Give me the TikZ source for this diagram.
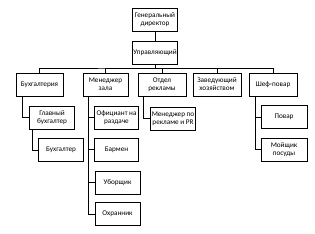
\documentclass[tikz,border=0pt]{standalone}
\usepackage{fontspec}
\setmainfont{Carlito}
\usetikzlibrary{positioning}

\begin{document}
\begin{tikzpicture}[
  x=1pt, y=-1pt,
  box/.style={draw, line width=1pt, minimum width=45pt, minimum height=23pt,
    align=center, inner sep=1pt, font=\fontsize{7.2}{8}\selectfont},
  link/.style={line width=1pt}
]
  \useasboundingbox (0,0) rectangle (315,233);

  % Head
  \node[box] (gen) at (155,20) {Генеральный\\директор};
  \node[box] (upr) at (155,52.5) {Управляющий};
  \draw[link] (gen) -- (upr);

  % Departments
  \node[box, minimum width=47pt] (buh) at (39.5,84.5) {Бухгалтерия};
  \node[box] (mgr) at (105.5,84.5) {Менеджер\\зала};
  \node[box, minimum width=48pt] (otd) at (162,84.5) {Отдел\\рекламы};
  \node[box, minimum width=48pt] (zav) at (217,84.5) {Заведующий\\хозяйством};
  \node[box, minimum width=48pt] (shef) at (273,84.5) {Шеф-повар};

  \coordinate (bus) at (155,68);
  \draw[link] (upr) -- (bus);
  \draw[link] (buh.north) |- (bus) -| (shef.north);
  \foreach \n in {mgr, otd, zav}
    \draw[link] (\n.north) |- (bus);

  % Accounting
  \node[box] (glav) at (52,117.5) {Главный\\бухгалтер};
  \node[box] (bux) at (61,150) {Бухгалтер};
  \draw[link] ([xshift=-17.5pt]buh.south) |- (glav.west);
  \draw[link] ([xshift=-20pt]glav.south) |- (bux.west);

  % Hall
  \node[box, minimum width=44pt] (ofic) at (116.5,117.5) {Официант на\\раздаче};
  \node[box, minimum width=44pt] (barm) at (116.5,149.5) {Бармен};
  \node[box] (ubor) at (117.5,182.5) {Уборщик};
  \node[box] (ohr) at (117.5,214) {Охранник};
  \foreach \n in {ofic, barm, ubor, ohr}
    \draw[link] ([xshift=-17.5pt]mgr.south) |- (\n.west);

  % Advertising
  \node[box] (pr) at (173,118.5) {Менеджер по\\рекламе и PR};
  \draw[link] ([xshift=-19pt]otd.south) |- (pr.west);

  % Kitchen
  \node[box, minimum width=46pt] (povar) at (284,117) {Повар};
  \node[box, minimum width=46pt] (moy) at (284,149.5) {Мойщик\\посуды};
  \foreach \n in {povar, moy}
    \draw[link] ([xshift=-18pt]shef.south) |- (\n.west);
\end{tikzpicture}
\end{document}
